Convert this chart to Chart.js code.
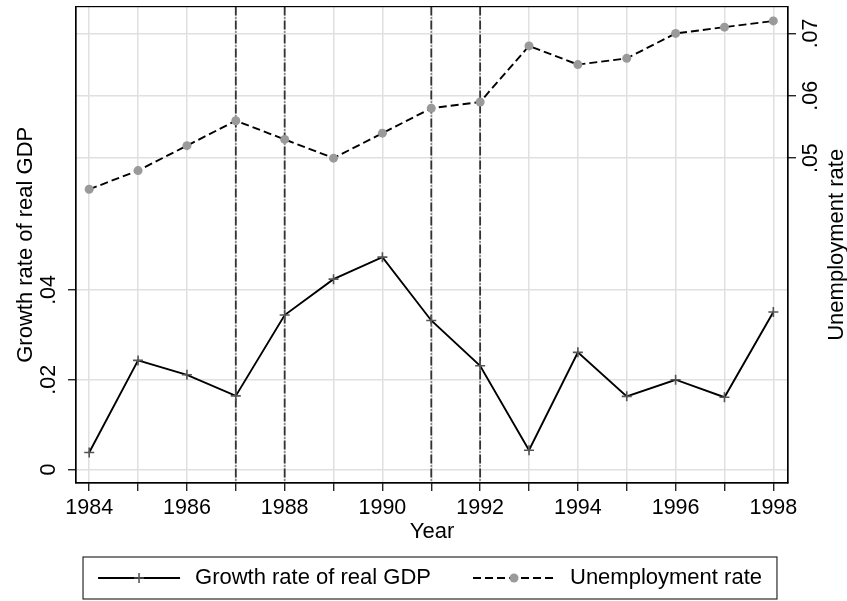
<!DOCTYPE html>
<html>
<head>
<meta charset="utf-8">
<script src="https://cdn.jsdelivr.net/npm/chart.js@4/dist/chart.umd.min.js"></script>
<style>
  html, body { margin: 0; padding: 0; background: #fff; }
  #wrap { width: 847px; height: 601px; }
</style>
</head>
<body>
<div id="wrap"><canvas id="c" width="847" height="601"></canvas></div>
<script>
// Annual series, 1984-1998
const years = [1984, 1985, 1986, 1987, 1988, 1989, 1990, 1991, 1992, 1993, 1994, 1995, 1996, 1997, 1998];
const gdpGrowth = [0.0038, 0.0243, 0.0211, 0.0164, 0.0344, 0.0424, 0.0473, 0.0332, 0.0231, 0.0043, 0.0261, 0.0163, 0.0200, 0.0161, 0.0351];
const unemployment = [0.045, 0.048, 0.052, 0.056, 0.053, 0.050, 0.054, 0.058, 0.059, 0.068, 0.065, 0.066, 0.070, 0.071, 0.072];

// Years marked with vertical reference lines
const refYears = [1987, 1988, 1991, 1992];

// Axis ticks and their labels
const xTickLabels = ['1984', '', '1986', '', '1988', '', '1990', '', '1992', '', '1994', '', '1996', '', '1998'];
const gdpTicks = [0, 0.02, 0.04];
const gdpTickLabels = ['0', '.02', '.04'];
const unempTicks = [0.05, 0.06, 0.07];
const unempTickLabels = ['.05', '.06', '.07'];

const seriesNames = ['Growth rate of real GDP', 'Unemployment rate'];
const titles = { x: 'Year', left: 'Growth rate of real GDP', right: 'Unemployment rate' };

const FONT = '"Liberation Sans", Arial, Helvetica, sans-serif';
const TICK_SIZE = 21.5;
const TITLE_SIZE = 22;
const GRID = '#e0e0e0';
const MARKER_GRAY = '#9a9a9a';
const CROSS_GRAY = '#555555';
const LINE_W = 1.9;

Chart.defaults.color = '#000';
Chart.defaults.font.family = FONT;

// Legend keys: a short line sample with the series marker in the middle
function makeKey(kind) {
  const lead = 32, len = 82, tail = 4;
  const c = document.createElement('canvas');
  c.width = lead + len + tail;
  c.height = 22;
  const g = c.getContext('2d');
  const y = 11, mid = lead + len / 2;
  g.strokeStyle = '#000';
  g.lineWidth = LINE_W;
  if (kind === 'dash') g.setLineDash([8, 4]);
  g.beginPath(); g.moveTo(lead, y); g.lineTo(lead + len, y); g.stroke();
  g.setLineDash([]);
  if (kind === 'dash') {
    g.fillStyle = MARKER_GRAY;
    g.beginPath(); g.arc(mid, y, 4.5, 0, Math.PI * 2); g.fill();
  } else {
    g.strokeStyle = CROSS_GRAY;
    g.lineWidth = 1.6;
    g.beginPath();
    g.moveTo(mid - 5, y); g.lineTo(mid + 5, y);
    g.moveTo(mid, y - 5); g.lineTo(mid, y + 5);
    g.stroke();
  }
  return c;
}
const legendKeys = [makeKey('solid'), makeKey('dash')];

// Frame, reference lines, right-hand title and legend box
const decorations = {
  id: 'decorations',
  beforeDatasetsDraw(chart) {
    const { ctx, chartArea: a, scales: { x } } = chart;
    ctx.save();
    ctx.strokeStyle = '#333333';
    ctx.lineWidth = 1.8;
    ctx.setLineDash([9, 2, 1, 2]);
    refYears.forEach(yr => {
      const px = x.getPixelForValue(yr);
      ctx.beginPath();
      ctx.moveTo(px, a.top);
      ctx.lineTo(px, a.bottom);
      ctx.stroke();
    });
    ctx.restore();
  },
  afterDraw(chart) {
    const { ctx, chartArea: a, scales: { y1 }, legend } = chart;
    ctx.save();
    ctx.strokeStyle = '#000';
    ctx.lineWidth = 1.2;
    ctx.strokeRect(a.left, a.top, a.right - a.left, a.bottom - a.top);

    ctx.fillStyle = '#000';
    ctx.font = TITLE_SIZE + 'px ' + FONT;
    ctx.textAlign = 'center';
    ctx.textBaseline = 'middle';
    ctx.translate(y1.left + 49.4, (a.top + a.bottom) / 2);
    ctx.rotate(-Math.PI / 2);
    ctx.fillText(titles.right, 0, 0);
    ctx.restore();

    const boxes = legend.legendHitBoxes;
    if (boxes && boxes.length) {
      const first = boxes[0], last = boxes[boxes.length - 1];
      const left = first.left + 32 - 15;
      const right = last.left + last.width + 15;
      ctx.save();
      ctx.strokeStyle = '#2a2a2a';
      ctx.lineWidth = 1.2;
      ctx.strokeRect(left, legend.top, right - left, legend.bottom - legend.top);
      ctx.restore();
    }
  }
};

const tickFont = { family: FONT, size: TICK_SIZE };
const titleFont = { family: FONT, size: TITLE_SIZE };

// Rotated y labels sit well inside the plot, so no extra room above/below
function fixY(width) {
  return s => { s.width = width; s.paddingTop = 0; s.paddingBottom = 0; };
}

new Chart(document.getElementById('c'), {
  type: 'line',
  data: {
    datasets: [
      {
        label: seriesNames[0],
        data: years.map((yr, i) => ({ x: yr, y: gdpGrowth[i] })),
        yAxisID: 'y',
        borderColor: '#000',
        borderWidth: LINE_W,
        pointStyle: 'cross',
        pointRadius: 5,
        pointBorderColor: CROSS_GRAY,
        pointBorderWidth: 1.6,
        pointBackgroundColor: CROSS_GRAY,
        tension: 0,
        fill: false
      },
      {
        label: seriesNames[1],
        data: years.map((yr, i) => ({ x: yr, y: unemployment[i] })),
        yAxisID: 'y1',
        borderColor: '#000',
        borderWidth: LINE_W,
        borderDash: [8, 4],
        pointStyle: 'circle',
        pointRadius: 4.5,
        pointBorderWidth: 0,
        pointBackgroundColor: MARKER_GRAY,
        pointBorderColor: MARKER_GRAY,
        tension: 0,
        fill: false
      }
    ]
  },
  options: {
    responsive: false,
    animation: false,
    devicePixelRatio: 1,
    layout: { padding: { left: 0, right: 19, top: 6, bottom: 2 } },
    plugins: {
      tooltip: { enabled: false },
      legend: {
        display: true,
        position: 'bottom',
        align: 'center',
        labels: {
          usePointStyle: true,
          pointStyleWidth: 118,
          padding: 10,
          color: '#000',
          font: { family: FONT, size: 22 },
          generateLabels(chart) {
            const items = Chart.defaults.plugins.legend.labels.generateLabels(chart);
            items.forEach((it, i) => { it.pointStyle = legendKeys[i]; });
            return items;
          }
        }
      }
    },
    scales: {
      x: {
        type: 'linear',
        position: 'bottom',
        min: 1983.73,
        max: 1998.3,
        afterBuildTicks(s) { s.ticks = years.map(v => ({ value: v })); },
        afterFit(s) { s.height = 74; },
        ticks: {
          autoSkip: false,
          maxRotation: 0,
          minRotation: 0,
          padding: 4,
          font: tickFont,
          color: '#000',
          callback: (v, i) => xTickLabels[i]
        },
        grid: { color: GRID, lineWidth: 1.5, tickLength: 8, tickColor: '#000', tickWidth: 1.2 },
        border: { display: true, color: '#000', width: 1.2 },
        title: { display: true, text: titles.x, font: titleFont, color: '#000', padding: { top: 0, bottom: 12.3 } }
      },
      y: {
        type: 'linear',
        position: 'left',
        min: -0.003,
        max: 0.1031,
        afterBuildTicks(s) { s.ticks = gdpTicks.map(v => ({ value: v })); },
        afterFit: fixY(76),
        ticks: {
          autoSkip: false,
          minRotation: 90,
          maxRotation: 90,
          crossAlign: 'center',
          padding: 4,
          font: tickFont,
          color: '#000',
          callback: (v, i) => gdpTickLabels[i]
        },
        grid: { color: GRID, lineWidth: 1.5, tickLength: 8, tickColor: '#000', tickWidth: 1.2 },
        border: { display: true, color: '#000', width: 1.2 },
        title: { display: true, text: titles.left, font: titleFont, color: '#000', padding: { top: 13, bottom: 0 } }
      },
      y1: {
        type: 'linear',
        position: 'right',
        min: -0.0021,
        max: 0.0743,
        afterBuildTicks(s) { s.ticks = unempTicks.map(v => ({ value: v })); },
        afterFit: fixY(40),
        ticks: {
          autoSkip: false,
          minRotation: 90,
          maxRotation: 90,
          crossAlign: 'center',
          padding: 0,
          font: tickFont,
          color: '#000',
          callback: (v, i) => unempTickLabels[i]
        },
        grid: { color: GRID, lineWidth: 1.5, tickLength: 8, tickColor: '#000', tickWidth: 1.2 },
        border: { display: true, color: '#000', width: 1.2 },
        title: { display: false }
      }
    }
  },
  plugins: [decorations]
});
</script>
</body>
</html>
